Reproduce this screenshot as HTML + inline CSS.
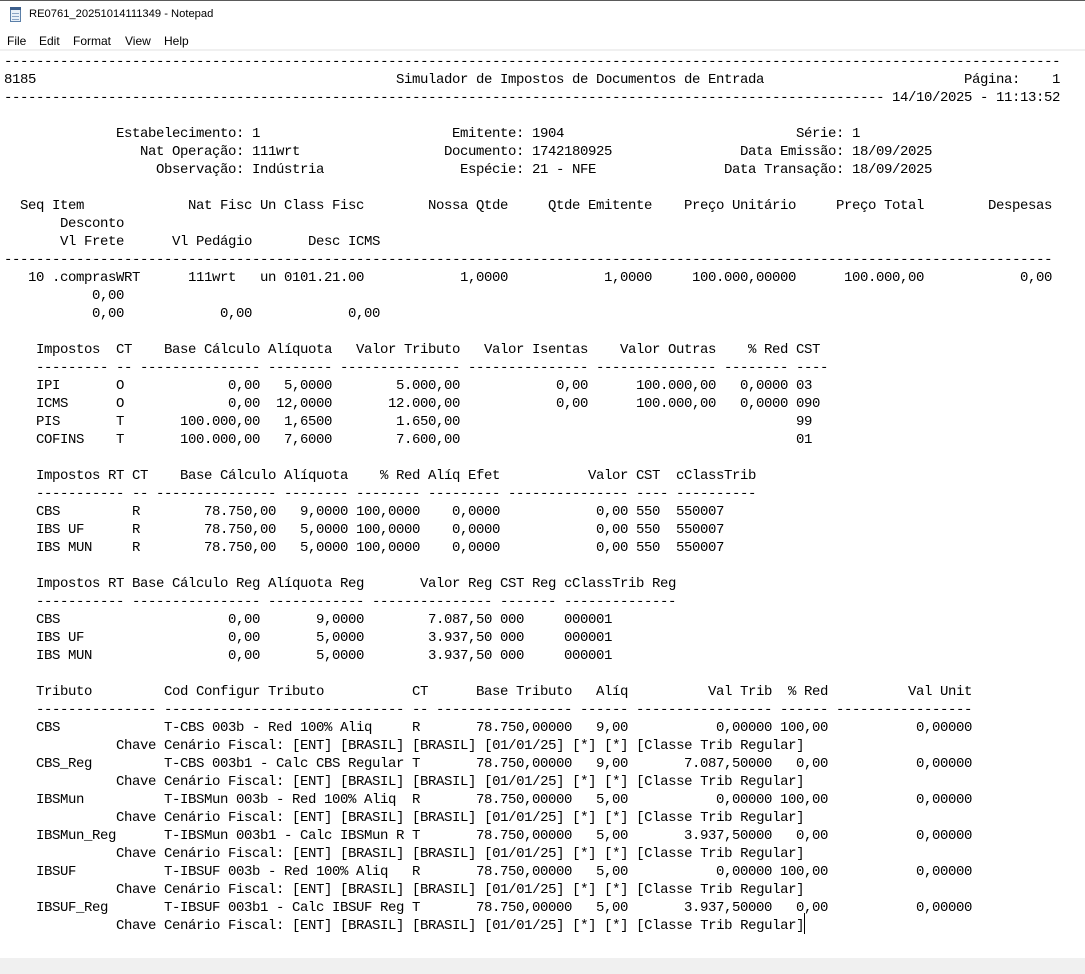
<!DOCTYPE html>
<html><head><meta charset="utf-8"><style>
html,body{margin:0;padding:0}
body{width:1085px;height:974px;position:relative;overflow:hidden;background:#fff;font-family:"Liberation Sans",sans-serif}
.top{position:absolute;left:0;top:0;width:1085px;height:1px;background:#5a5a5a}
.title{position:absolute;left:29px;top:8px;font-size:11.2px;color:#000;white-space:nowrap}
.icon{position:absolute;left:10px;top:8px;width:11px;height:14px;background:#e8f0f8;border:1px solid #5b7fa8;box-sizing:border-box}
.icon:before{content:"";position:absolute;left:-1px;top:-2px;width:11px;height:3px;background:#3d5f8c}
.icon:after{content:"";position:absolute;left:1px;top:4px;width:7px;height:1px;background:#8aa4c4;box-shadow:0 3px 0 #8aa4c4,0 6px 0 #8aa4c4}
.menu{position:absolute;top:34px;font-size:12px;color:#000;white-space:nowrap}
.sep{position:absolute;left:0;top:49px;width:1085px;height:2px;background:#f0f0f0}
.bot{position:absolute;left:0;top:958px;width:1085px;height:16px;background:#f0f0f0}
.cur{position:absolute;left:804px;top:913px;width:1px;height:21px;background:#000}
.r{position:absolute;left:4px;height:18px;width:1080px}
.r span{position:absolute;top:0;font-family:"Liberation Mono",monospace;font-size:14px;letter-spacing:-0.4px;line-height:18px;white-space:pre;color:#000}
</style></head><body>
<div class="top"></div>
<div class="icon"></div>
<div class="title">RE0761_20251014111349 - Notepad</div>
<div class="menu" style="left:7px">File</div>
<div class="menu" style="left:39px">Edit</div>
<div class="menu" style="left:73px">Format</div>
<div class="menu" style="left:125px">View</div>
<div class="menu" style="left:164px">Help</div>
<div class="sep"></div>

<div class="r" style="top:53px"><span style="left:0px">------------------------------------------------------------------------------------------------------------------------------------</span></div>
<div class="r" style="top:71px"><span style="left:0px">8185</span><span style="left:392px">Simulador de Impostos de Documentos de Entrada</span><span style="left:960px">Página:</span><span style="left:1048px">1</span></div>
<div class="r" style="top:89px"><span style="left:0px">--------------------------------------------------------------------------------------------------------------</span><span style="left:888px">14/10/2025 - 11:13:52</span></div>

<div class="r" style="top:125px"><span style="left:112px">Estabelecimento: 1</span><span style="left:448px">Emitente: 1904</span><span style="left:792px">Série: 1</span></div>
<div class="r" style="top:143px"><span style="left:136px">Nat Operação: 111wrt</span><span style="left:440px">Documento: 1742180925</span><span style="left:736px">Data Emissão: 18/09/2025</span></div>
<div class="r" style="top:161px"><span style="left:152px">Observação: Indústria</span><span style="left:456px">Espécie: 21 - NFE</span><span style="left:720px">Data Transação: 18/09/2025</span></div>

<div class="r" style="top:197px"><span style="left:16px">Seq Item</span><span style="left:184px">Nat Fisc Un Class Fisc</span><span style="left:424px">Nossa Qtde</span><span style="left:544px">Qtde Emitente</span><span style="left:680px">Preço Unitário</span><span style="left:832px">Preço Total</span><span style="left:984px">Despesas</span></div>
<div class="r" style="top:215px"><span style="left:56px">Desconto</span></div>
<div class="r" style="top:233px"><span style="left:56px">Vl Frete</span><span style="left:168px">Vl Pedágio</span><span style="left:304px">Desc ICMS</span></div>
<div class="r" style="top:251px"><span style="left:0px">-----------------------------------------------------------------------------------------------------------------------------------</span></div>
<div class="r" style="top:269px"><span style="left:24px">10 .comprasWRT</span><span style="left:184px">111wrt</span><span style="left:256px">un 0101.21.00</span><span style="left:456px">1,0000</span><span style="left:600px">1,0000</span><span style="left:688px">100.000,00000</span><span style="left:840px">100.000,00</span><span style="left:1016px">0,00</span></div>
<div class="r" style="top:287px"><span style="left:88px">0,00</span></div>
<div class="r" style="top:305px"><span style="left:88px">0,00</span><span style="left:216px">0,00</span><span style="left:344px">0,00</span></div>

<div class="r" style="top:341px"><span style="left:32px">Impostos</span><span style="left:112px">CT</span><span style="left:160px">Base Cálculo</span><span style="left:264px">Alíquota</span><span style="left:352px">Valor Tributo</span><span style="left:480px">Valor Isentas</span><span style="left:616px">Valor Outras</span><span style="left:744px">% Red</span><span style="left:792px">CST</span></div>
<div class="r" style="top:359px"><span style="left:32px">---------</span><span style="left:112px">--</span><span style="left:136px">---------------</span><span style="left:264px">--------</span><span style="left:336px">---------------</span><span style="left:464px">---------------</span><span style="left:592px">---------------</span><span style="left:720px">--------</span><span style="left:792px">----</span></div>
<div class="r" style="top:377px"><span style="left:32px">IPI</span><span style="left:112px">O</span><span style="left:224px">0,00</span><span style="left:280px">5,0000</span><span style="left:392px">5.000,00</span><span style="left:552px">0,00</span><span style="left:632px">100.000,00</span><span style="left:736px">0,0000</span><span style="left:792px">03</span></div>
<div class="r" style="top:395px"><span style="left:32px">ICMS</span><span style="left:112px">O</span><span style="left:224px">0,00</span><span style="left:272px">12,0000</span><span style="left:384px">12.000,00</span><span style="left:552px">0,00</span><span style="left:632px">100.000,00</span><span style="left:736px">0,0000</span><span style="left:792px">090</span></div>
<div class="r" style="top:413px"><span style="left:32px">PIS</span><span style="left:112px">T</span><span style="left:176px">100.000,00</span><span style="left:280px">1,6500</span><span style="left:392px">1.650,00</span><span style="left:792px">99</span></div>
<div class="r" style="top:431px"><span style="left:32px">COFINS</span><span style="left:112px">T</span><span style="left:176px">100.000,00</span><span style="left:280px">7,6000</span><span style="left:392px">7.600,00</span><span style="left:792px">01</span></div>

<div class="r" style="top:467px"><span style="left:32px">Impostos RT</span><span style="left:128px">CT</span><span style="left:176px">Base Cálculo</span><span style="left:280px">Alíquota</span><span style="left:376px">% Red</span><span style="left:424px">Alíq Efet</span><span style="left:584px">Valor</span><span style="left:632px">CST</span><span style="left:672px">cClassTrib</span></div>
<div class="r" style="top:485px"><span style="left:32px">-----------</span><span style="left:128px">--</span><span style="left:152px">---------------</span><span style="left:280px">--------</span><span style="left:352px">--------</span><span style="left:424px">---------</span><span style="left:504px">---------------</span><span style="left:632px">----</span><span style="left:672px">----------</span></div>
<div class="r" style="top:503px"><span style="left:32px">CBS</span><span style="left:128px">R</span><span style="left:200px">78.750,00</span><span style="left:296px">9,0000</span><span style="left:352px">100,0000</span><span style="left:448px">0,0000</span><span style="left:592px">0,00</span><span style="left:632px">550</span><span style="left:672px">550007</span></div>
<div class="r" style="top:521px"><span style="left:32px">IBS UF</span><span style="left:128px">R</span><span style="left:200px">78.750,00</span><span style="left:296px">5,0000</span><span style="left:352px">100,0000</span><span style="left:448px">0,0000</span><span style="left:592px">0,00</span><span style="left:632px">550</span><span style="left:672px">550007</span></div>
<div class="r" style="top:539px"><span style="left:32px">IBS MUN</span><span style="left:128px">R</span><span style="left:200px">78.750,00</span><span style="left:296px">5,0000</span><span style="left:352px">100,0000</span><span style="left:448px">0,0000</span><span style="left:592px">0,00</span><span style="left:632px">550</span><span style="left:672px">550007</span></div>

<div class="r" style="top:575px"><span style="left:32px">Impostos RT</span><span style="left:128px">Base Cálculo Reg</span><span style="left:264px">Alíquota Reg</span><span style="left:416px">Valor Reg</span><span style="left:496px">CST Reg</span><span style="left:560px">cClassTrib Reg</span></div>
<div class="r" style="top:593px"><span style="left:32px">-----------</span><span style="left:128px">----------------</span><span style="left:264px">------------</span><span style="left:368px">---------------</span><span style="left:496px">-------</span><span style="left:560px">--------------</span></div>
<div class="r" style="top:611px"><span style="left:32px">CBS</span><span style="left:224px">0,00</span><span style="left:312px">9,0000</span><span style="left:424px">7.087,50</span><span style="left:496px">000</span><span style="left:560px">000001</span></div>
<div class="r" style="top:629px"><span style="left:32px">IBS UF</span><span style="left:224px">0,00</span><span style="left:312px">5,0000</span><span style="left:424px">3.937,50</span><span style="left:496px">000</span><span style="left:560px">000001</span></div>
<div class="r" style="top:647px"><span style="left:32px">IBS MUN</span><span style="left:224px">0,00</span><span style="left:312px">5,0000</span><span style="left:424px">3.937,50</span><span style="left:496px">000</span><span style="left:560px">000001</span></div>

<div class="r" style="top:683px"><span style="left:32px">Tributo</span><span style="left:160px">Cod Configur Tributo</span><span style="left:408px">CT</span><span style="left:472px">Base Tributo</span><span style="left:592px">Alíq</span><span style="left:704px">Val Trib</span><span style="left:784px">% Red</span><span style="left:904px">Val Unit</span></div>
<div class="r" style="top:701px"><span style="left:32px">---------------</span><span style="left:160px">------------------------------</span><span style="left:408px">--</span><span style="left:432px">-----------------</span><span style="left:576px">------</span><span style="left:632px">-----------------</span><span style="left:776px">------</span><span style="left:832px">-----------------</span></div>
<div class="r" style="top:719px"><span style="left:32px">CBS</span><span style="left:160px">T-CBS 003b - Red 100% Aliq</span><span style="left:408px">R</span><span style="left:472px">78.750,00000</span><span style="left:592px">9,00</span><span style="left:712px">0,00000</span><span style="left:776px">100,00</span><span style="left:912px">0,00000</span></div>
<div class="r" style="top:737px"><span style="left:112px">Chave Cenário Fiscal: [ENT] [BRASIL] [BRASIL] [01/01/25] [*] [*] [Classe Trib Regular]</span></div>
<div class="r" style="top:755px"><span style="left:32px">CBS_Reg</span><span style="left:160px">T-CBS 003b1 - Calc CBS Regular</span><span style="left:408px">T</span><span style="left:472px">78.750,00000</span><span style="left:592px">9,00</span><span style="left:680px">7.087,50000</span><span style="left:792px">0,00</span><span style="left:912px">0,00000</span></div>
<div class="r" style="top:773px"><span style="left:112px">Chave Cenário Fiscal: [ENT] [BRASIL] [BRASIL] [01/01/25] [*] [*] [Classe Trib Regular]</span></div>
<div class="r" style="top:791px"><span style="left:32px">IBSMun</span><span style="left:160px">T-IBSMun 003b - Red 100% Aliq</span><span style="left:408px">R</span><span style="left:472px">78.750,00000</span><span style="left:592px">5,00</span><span style="left:712px">0,00000</span><span style="left:776px">100,00</span><span style="left:912px">0,00000</span></div>
<div class="r" style="top:809px"><span style="left:112px">Chave Cenário Fiscal: [ENT] [BRASIL] [BRASIL] [01/01/25] [*] [*] [Classe Trib Regular]</span></div>
<div class="r" style="top:827px"><span style="left:32px">IBSMun_Reg</span><span style="left:160px">T-IBSMun 003b1 - Calc IBSMun R</span><span style="left:408px">T</span><span style="left:472px">78.750,00000</span><span style="left:592px">5,00</span><span style="left:680px">3.937,50000</span><span style="left:792px">0,00</span><span style="left:912px">0,00000</span></div>
<div class="r" style="top:845px"><span style="left:112px">Chave Cenário Fiscal: [ENT] [BRASIL] [BRASIL] [01/01/25] [*] [*] [Classe Trib Regular]</span></div>
<div class="r" style="top:863px"><span style="left:32px">IBSUF</span><span style="left:160px">T-IBSUF 003b - Red 100% Aliq</span><span style="left:408px">R</span><span style="left:472px">78.750,00000</span><span style="left:592px">5,00</span><span style="left:712px">0,00000</span><span style="left:776px">100,00</span><span style="left:912px">0,00000</span></div>
<div class="r" style="top:881px"><span style="left:112px">Chave Cenário Fiscal: [ENT] [BRASIL] [BRASIL] [01/01/25] [*] [*] [Classe Trib Regular]</span></div>
<div class="r" style="top:899px"><span style="left:32px">IBSUF_Reg</span><span style="left:160px">T-IBSUF 003b1 - Calc IBSUF Reg</span><span style="left:408px">T</span><span style="left:472px">78.750,00000</span><span style="left:592px">5,00</span><span style="left:680px">3.937,50000</span><span style="left:792px">0,00</span><span style="left:912px">0,00000</span></div>
<div class="r" style="top:917px"><span style="left:112px">Chave Cenário Fiscal: [ENT] [BRASIL] [BRASIL] [01/01/25] [*] [*] [Classe Trib Regular]</span></div>
<div class="cur"></div>
<div class="bot"></div>
</body></html>
